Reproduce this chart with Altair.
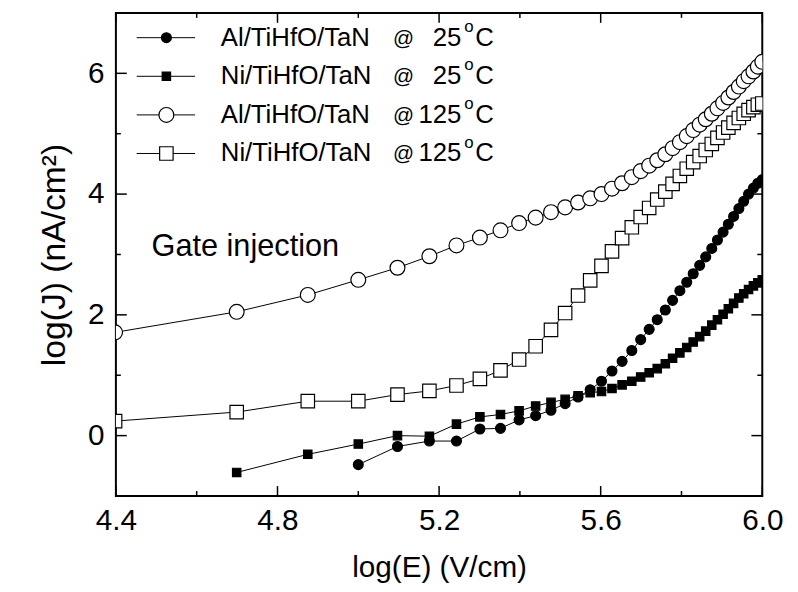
import altair as alt
import pandas as pd

# ---------------- data ----------------
LOG_E = [4.398, 4.699, 4.875, 5.000, 5.097, 5.176, 5.243, 5.301, 5.352, 5.398,
         5.439, 5.477, 5.512, 5.544, 5.574, 5.602, 5.628, 5.653, 5.677, 5.699,
         5.720, 5.740, 5.760, 5.778, 5.796, 5.813, 5.829, 5.845, 5.860, 5.875,
         5.889, 5.903, 5.916, 5.929, 5.942, 5.954, 5.966, 5.978, 5.989, 6.000]

AL_125 = [1.71, 2.05, 2.33, 2.58, 2.78, 2.97, 3.15, 3.28, 3.40, 3.52,
          3.61, 3.70, 3.78, 3.86, 3.93, 4.00, 4.09, 4.18, 4.28, 4.38,
          4.47, 4.56, 4.66, 4.76, 4.86, 4.96, 5.06, 5.15, 5.24, 5.33,
          5.42, 5.51, 5.60, 5.69, 5.78, 5.87, 5.95, 6.03, 6.11, 6.19]
NI_125 = [0.24, 0.39, 0.57, 0.57, 0.68, 0.74, 0.83, 0.94, 1.08, 1.26,
          1.48, 1.75, 2.03, 2.32, 2.57, 2.81, 3.05, 3.27, 3.45, 3.62,
          3.77, 3.91, 4.04, 4.17, 4.30, 4.42, 4.53, 4.63, 4.73, 4.83,
          4.93, 5.02, 5.10, 5.18, 5.26, 5.33, 5.39, 5.44, 5.48, 5.50]
NI_25 = [-0.61, -0.31, -0.14, 0.00, -0.01, 0.19, 0.31, 0.35, 0.41,
         0.49, 0.55, 0.60, 0.66, 0.71, 0.73, 0.78, 0.84, 0.90, 0.97,
         1.04, 1.11, 1.19, 1.28, 1.37, 1.46, 1.55, 1.64, 1.73, 1.83,
         1.92, 2.01, 2.10, 2.19, 2.28, 2.35, 2.42, 2.48, 2.53, 2.58]
AL_25 = [-0.48, -0.18, -0.09, -0.09, 0.11, 0.12, 0.26,
         0.33, 0.42, 0.53, 0.64, 0.76, 0.90, 1.07, 1.23, 1.41, 1.59,
         1.76, 1.92, 2.08, 2.24, 2.40, 2.54, 2.68, 2.82, 2.96, 3.10,
         3.24, 3.37, 3.50, 3.63, 3.76, 3.88, 4.00, 4.10, 4.18, 4.24]

SERIES = ["Al25", "Ni25", "Al125", "Ni125"]
LEG_NAMES = ["Al/TiHfO/TaN", "Ni/TiHfO/TaN", "Al/TiHfO/TaN", "Ni/TiHfO/TaN"]
LEG_TEMPS = ["25", "25", "125", "125"]
NOTE = ["Gate injection"]

X_MAJOR = [4.4, 4.8, 5.2, 5.6, 6.0]
X_MINOR = [4.6, 5.0, 5.4, 5.8]
Y_MAJOR = [0, 2, 4, 6]
Y_MINOR = [1, 3, 5]

# ---------------- tables ----------------
rows = []
for name, xs_, ys_ in [("Al125", LOG_E, AL_125), ("Ni125", LOG_E, NI_125),
                       ("Ni25", LOG_E[1:], NI_25), ("Al25", LOG_E[3:], AL_25)]:
    for x, y in zip(xs_, ys_):
        rows.append({"x": x, "y": y, "series": name})
df = pd.DataFrame(rows)
leg_df = pd.DataFrame({"series": SERIES, "name": LEG_NAMES, "temp": LEG_TEMPS})
note_df = pd.DataFrame({"label": NOTE})
xmaj_df = pd.DataFrame({"v": X_MAJOR})
xmin_df = pd.DataFrame({"v": X_MINOR})
ymaj_df = pd.DataFrame({"v": Y_MAJOR})
ymin_df = pd.DataFrame({"v": Y_MINOR})

W, H = 653, 488
FONT = "Liberation Sans, Arial, sans-serif"

xs = alt.Scale(domain=[4.4, 6.0], nice=False, zero=False)
ys = alt.Scale(domain=[-1, 7], nice=False, zero=False)

base = alt.Chart(df)

x_main = alt.X("x:Q", scale=xs, axis=alt.Axis(
    values=X_MAJOR, format=".1f", ticks=False, tickSize=0, domain=False, grid=False,
    labelFontSize=30, labelPadding=10, labelFlush=False, labelColor="black",
    labelFont=FONT, title="log(E) (V/cm)", titleFontSize=30, titleFont=FONT,
    titleFontWeight="normal", titleColor="black", titleX=W / 2, titleY=72,
    titleBaseline="middle", titleAlign="center"))
y_main = alt.Y("y:Q", scale=ys, axis=alt.Axis(
    values=Y_MAJOR, format="d", ticks=False, tickSize=0, domain=False, grid=False,
    labelFontSize=30, labelPadding=12, labelFlush=False, labelColor="black",
    labelFont=FONT, title="log(J) (nA/cm²)", titleFontSize=34, titleFont=FONT,
    titleFontWeight="normal", titleColor="black", titleX=-62, titleY=H / 2,
    titleBaseline="middle", titleAlign="center", titleAngle=270))

lines = base.mark_line(color="black", strokeWidth=1, clip=True).encode(
    x=x_main, y=y_main, detail="series:N")

# ---------------- inward ticks, positioned by the shared scales ----------------
ticks = []
for d, ln in [(xmaj_df, 10), (xmin_df, 5)]:
    for y0, y1 in [(H, H - ln), (0, ln)]:
        ticks.append(alt.Chart(d).mark_rule(color="black", strokeWidth=1.5).encode(
            x=alt.X("v:Q", scale=xs, axis=None), y=alt.value(y0), y2=alt.value(y1)))
for d, ln in [(ymaj_df, 11), (ymin_df, 5)]:
    for x0, x1 in [(0, ln), (W, W - ln)]:
        ticks.append(alt.Chart(d).mark_rule(color="black", strokeWidth=1.5).encode(
            y=alt.Y("v:Q", scale=ys, axis=None), x=alt.value(x0), x2=alt.value(x1)))

STYLE = {
    "Al25": dict(shape="circle", fill="black", size=100),
    "Ni25": dict(shape="square", fill="black", size=72),
    "Al125": dict(shape="circle", fill="white", size=225),
    "Ni125": dict(shape="square", fill="white", size=185),
}

pts = []
for s in ["Al125", "Ni125", "Ni25", "Al25"]:
    st = STYLE[s]
    pts.append(base.transform_filter(alt.datum.series == s).mark_point(
        shape=st["shape"], fill=st["fill"], stroke="black", strokeWidth=1.2,
        size=st["size"], opacity=1, fillOpacity=1, clip=True).encode(
        x=alt.X("x:Q", scale=xs, axis=None), y=alt.Y("y:Q", scale=ys, axis=None)))

# ---------------- legend / annotation ----------------
ROW_Y = [25, 64, 103, 142]
LFS = 26
leg = []
for i, s in enumerate(SERIES):
    st = STYLE[s]
    py = ROW_Y[i]
    one = alt.Chart(leg_df).transform_filter(alt.datum.series == s)
    leg.append(one.mark_rule(color="black", strokeWidth=1).encode(
        x=alt.value(21), x2=alt.value(80), y=alt.value(py)))
    leg.append(one.mark_point(
        shape=st["shape"], fill=st["fill"], stroke="black", strokeWidth=1.2,
        size=st["size"], opacity=1, fillOpacity=1).encode(
        x=alt.value(51), y=alt.value(py)))
    leg.append(one.mark_text(
        align="left", baseline="middle", fontSize=LFS, font=FONT,
        color="black").encode(text="name:N", x=alt.value(106), y=alt.value(py)))
    leg.append(one.mark_text(
        text="@", align="left", baseline="middle", fontSize=21, font=FONT,
        color="black").encode(x=alt.value(280), y=alt.value(py + 1)))
    leg.append(one.mark_text(
        align="right", baseline="middle", fontSize=LFS, font=FONT,
        color="black").encode(text="temp:N", x=alt.value(349), y=alt.value(py)))
    leg.append(one.mark_text(
        text="o", align="left", baseline="middle", fontSize=17, font=FONT,
        color="black").encode(x=alt.value(352), y=alt.value(py - 11)))
    leg.append(one.mark_text(
        text="C", align="left", baseline="middle", fontSize=LFS, font=FONT,
        color="black").encode(x=alt.value(363), y=alt.value(py)))

gate = alt.Chart(note_df).mark_text(
    align="left", baseline="alphabetic", fontSize=31,
    font=FONT, color="black").encode(text="label:N", x=alt.value(36), y=alt.value(246))

chart = alt.layer(lines, *ticks, *pts, *leg, gate).resolve_axis(
    x="independent", y="independent"
).properties(
    width=W, height=H,
    padding={"left": 109, "top": 2, "right": 28, "bottom": 94},
    autosize=alt.AutoSizeParams(type="none"),
    background="white",
).configure_view(stroke="black", strokeWidth=2)

chart.save("out.html", embed_options={"renderer": "svg", "actions": False})
